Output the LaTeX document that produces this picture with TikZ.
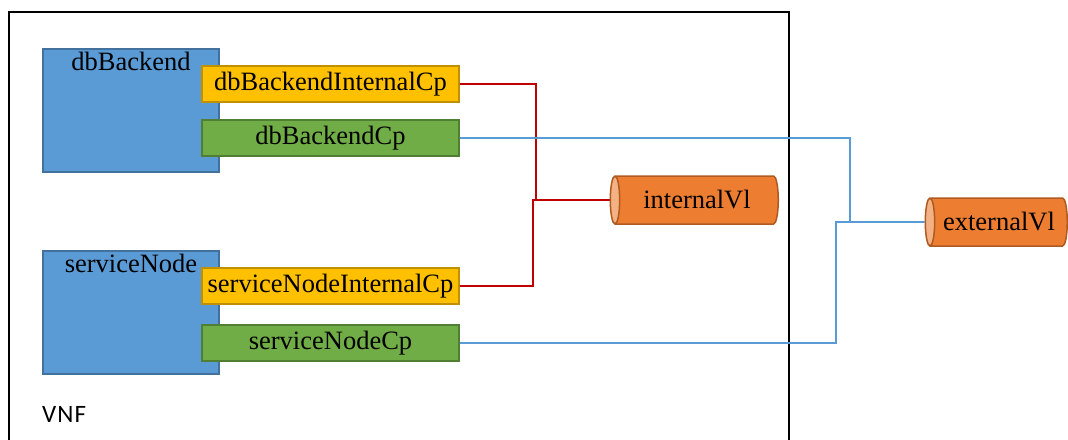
\documentclass[tikz,border=0pt]{standalone}
\usepackage{fontspec}
\setmainfont{Liberation Serif}
\newfontfamily\vnffont{Carlito}
\usetikzlibrary{shapes.geometric}

\definecolor{vdublue}{HTML}{5B9BD5}
\definecolor{vduborder}{HTML}{41719C}
\definecolor{cpyellow}{HTML}{FFC000}
\definecolor{cpyellowborder}{HTML}{BF9000}
\definecolor{cpgreen}{HTML}{70AD47}
\definecolor{cpgreenborder}{HTML}{507E32}
\definecolor{vlorange}{HTML}{ED7D31}
\definecolor{vlborder}{HTML}{AE5A21}
\definecolor{vlend}{HTML}{F4B183}
\definecolor{intred}{HTML}{C00000}

\begin{document}
\begin{tikzpicture}[x=1pt, y=-1pt,
    every node/.style={font=\fontsize{26.5}{30}\selectfont},
    vdubox/.style={rectangle, draw=vduborder, fill=vdublue, line width=1.5pt, minimum width=176pt, minimum height=123pt},
    intcp/.style={rectangle, draw=cpyellowborder, fill=cpyellow, line width=1.5pt, minimum width=257pt, minimum height=36pt, inner sep=0pt},
    extcp/.style={rectangle, draw=cpgreenborder, fill=cpgreen, line width=1.5pt, minimum width=257pt, minimum height=36pt, inner sep=0pt},
    vlink/.style={cylinder, shape border rotate=180, aspect=0.5, draw=vlborder, line width=1.5pt, cylinder uses custom fill, cylinder body fill=vlorange, cylinder end fill=vlend, minimum width=48pt, inner sep=0pt}]
        \useasboundingbox (0,0) rectangle (1068,439);

        % VNF frame
        \draw[line width=2.8pt] (9,445) -- (9,12) -- (789,12) -- (789,445);
        \node[font=\vnffont\fontsize{25}{29}\selectfont, anchor=base west, inner sep=0pt] (vnfLabel) at (42,422.5) {V\kern1pt N\kern1pt F};

        % VDUs
        \node[vdubox, label={[anchor=north]north:dbBackend}] (dbBackend) at (131,110.5) {};
        \node[vdubox, label={[anchor=north]north:serviceNode}] (serviceNode) at (131,312.5) {};

        % Connection points
        \node[intcp] (dbBackendInternalCp) at (330.5,84) {dbBackendInternalCp};
        \node[extcp] (dbBackendCp) at (330.5,138) {dbBackendCp};
        \node[intcp] (serviceNodeInternalCp) at (330.5,286) {serviceNodeInternalCp};
        \node[extcp] (serviceNodeCp) at (330.5,343) {serviceNodeCp};

        % Virtual links
        \node[vlink, minimum height=168pt] (internalVl) at (697,200) {internalVl};
        \node[vlink, minimum height=142pt] (externalVl) at (999,222) {externalVl};

        % Internal connections
        \coordinate (intJoinA) at (536,200);
        \coordinate (intJoinB) at (533,200);
        \draw[intred, line width=1.6pt] (dbBackendInternalCp.east) -| (intJoinA) -- (internalVl.west);
        \draw[intred, line width=1.6pt] (serviceNodeInternalCp.east) -| (intJoinB) -- (internalVl.west);

        % External connections
        \coordinate (extJoinA) at (850,222);
        \coordinate (extJoinB) at (836,222);
        \draw[vdublue, line width=1.6pt] (dbBackendCp.east) -| (extJoinA) -- (externalVl.west);
        \draw[vdublue, line width=1.6pt] (serviceNodeCp.east) -| (extJoinB) -- (externalVl.west);
      \end{tikzpicture}
\end{document}
